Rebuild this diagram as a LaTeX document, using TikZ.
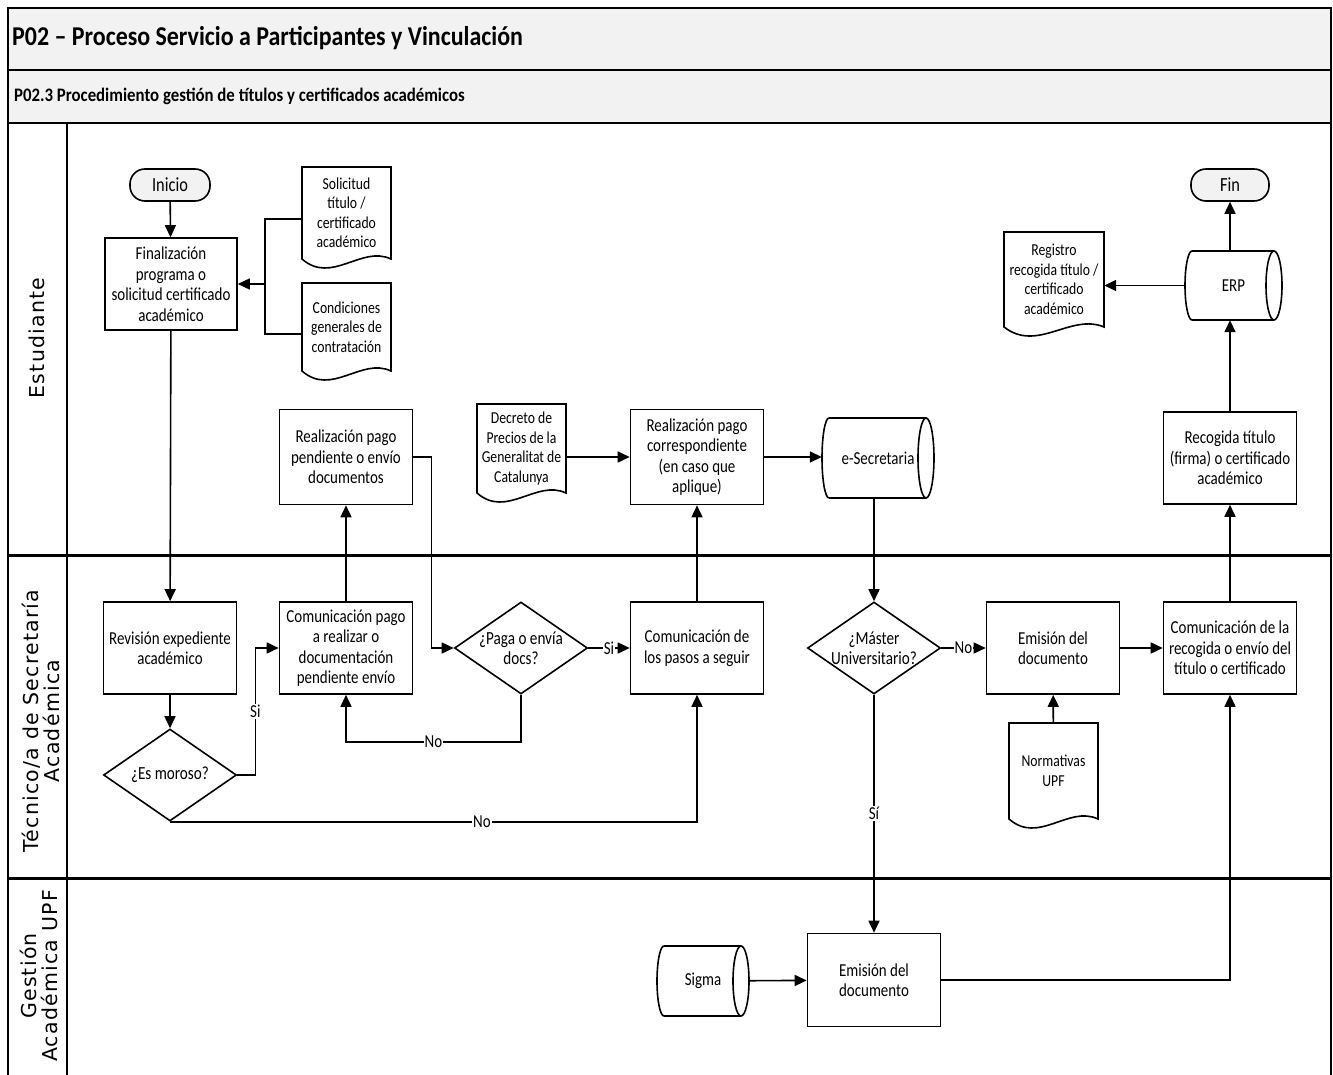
\documentclass[tikz,border=0pt]{standalone}
\usepackage{fontspec}
\setmainfont{Carlito}[FakeStretch=0.82]
\newfontfamily\titlefont{Carlito}[FakeStretch=0.88]
\newfontfamily\lanefont[LetterSpace=6]{DejaVu Sans}
\usetikzlibrary{arrows.meta,shapes.geometric,calc}
\definecolor{bandgray}{HTML}{F2F2F2}
\newcommand\fs[2]{\fontsize{#1}{#2}\selectfont}
% store (horizontal cylinder): name, x0, x1, ytop, ybot, text
\newcommand\storeshape[6]{%
  \node[storenode, minimum width={(#3-#2)*1pt}, minimum height={(#5-#4)*1pt}] (#1) at ({(#2+#3)/2},{(#4+#5)/2}) {#6};
  \draw[shp] ({#2+7},#4) -- ({#3-8},#4) ({#2+7},#5) -- ({#3-8},#5);
  \draw[shp] ({#2+7},#4) arc[start angle=90,end angle=270,x radius=7pt,y radius={(#5-#4)/2*1pt}];
  \draw[shp] ({#3-8},{(#4+#5)/2}) ellipse[x radius=8pt,y radius={(#5-#4)/2*1pt}];
}
% document: name, x0, x1, ytop, ybot (trough), text
\newcommand\docshape[6]{%
  \node[docnode, minimum width={(#3-#2)*1pt}, minimum height={(#5-9-#4)*1pt}] (#1) at ({(#2+#3)/2},{(#4+#5-9)/2}) {#6};
  \draw[shp] (#2,{#5-9}) -- (#2,#4) -- (#3,#4) -- (#3,{#5-9}) .. controls ({#3-(#3-#2)/3},{#5-23}) and ({#2+(#3-#2)/3},{#5+17}) .. (#2,{#5-9}) -- cycle;
}
\begin{document}
\begin{tikzpicture}[x=1pt,y=-1pt,
  shp/.style={line width=1.6pt, line join=miter},
  proc/.style={draw, line width=1.6pt, minimum width=133pt, minimum height=92pt, align=center, inner sep=2pt, font=\fs{18.25}{20.5}},
  dec/.style={draw, diamond, aspect=1.45, line width=1.6pt, minimum width=133pt, minimum height=92pt, inner sep=0pt, align=center, font=\fs{18.5}{19.5}},
  term/.style={draw, rounded corners=15pt, fill=bandgray, line width=1.6pt, minimum width=80pt, minimum height=32pt, font=\fs{20}{20}},
  docnode/.style={inner sep=0pt, align=center, font=\fs{16.7}{19.5}},
  storenode/.style={inner sep=0pt, align=center, font=\fs{18.25}{18}},
  arr/.style={line width=1.6pt, -{Triangle[length=12pt,width=11pt]}},
  ln/.style={line width=1.6pt},
  lbl/.style={fill=white, inner sep=1pt, font=\fs{18.25}{18}},
  lane/.style={font=\lanefont\fs{20.5}{21.5}, align=center, rotate=90},
]
\useasboundingbox (0,0) rectangle (1333,1075);
\fill[white] (0,0) rectangle (1333,1075);
% frame and bands
\filldraw[fill=bandgray, line width=2pt] (8,8) rectangle (1331,123);
\draw[line width=2pt] (8,70) -- (1331,70);
\draw[line width=2pt] (8,8) rectangle (1331,1090);
\draw[line width=1.6pt] (67,123) -- (67,1090);
\draw[line width=3pt] (8,555) -- (1331,555);
\draw[line width=3pt] (8,878) -- (1331,878);
\node[anchor=base west, inner sep=0pt, font=\titlefont\bfseries\fs{27.2}{30}] (title) at (12,46) {P02 – Proceso Servicio a Participantes y Vinculación};
\node[anchor=base west, inner sep=0pt, font=\titlefont\bfseries\fs{19.1}{22}] (subtitle) at (14,102) {P02.3 Procedimiento gestión de títulos y certificados académicos};
% lanes
\node[lane] (laneE) at (37,338) {Estudiante};
\node[lane] (laneT) at (41,721) {Técnico/a de Secretaría\\Académica};
\node[lane] (laneG) at (39,976) {Gestión\\Académica UPF};
% Estudiante lane
\node[term] (inicio) at (170,185) {Inicio};
\node[proc, minimum width=132pt] (finaliz) at (171,284) {Finalización\\programa o\\solicitud certificado\\académico};
\docshape{sol}{302}{391}{167}{268}{Solicitud\\título /\\certificado\\académico}
\docshape{cond}{302}{391}{283}{380}{Condiciones\\generales de\\contratación}
\node[proc, minimum height=95pt] (realpend) at (346,457) {Realización pago\\pendiente o envío\\documentos};
\docshape{decreto}{477}{566}{404}{502}{Decreto de\\Precios de la\\Generalitat de\\Catalunya}
\node[proc, minimum height=95pt] (realcorr) at (697,457) {Realización pago\\correspondiente\\(en caso que\\aplique)};
\storeshape{esec}{822}{934}{418}{498}{e-Secretaria}
\node[proc] (recogida) at (1230,458) {Recogida título\\(firma) o certificado\\académico};
\storeshape{erp}{1185}{1282}{251}{320}{ERP}
\node[term, minimum width=78pt] (fin) at (1230,185) {Fin};
\docshape{registro}{1004}{1104}{232}{336}{Registro\\recogida título /\\certificado\\académico}
% Tecnico lane
\node[proc] (revision) at (170,648) {Revisión expediente\\académico};
\node[dec] (moroso) at (170,775) {¿Es moroso?};
\node[proc] (compago) at (346,648) {Comunicación pago\\a realizar o\\documentación\\pendiente envío};
\node[dec] (paga) at (521,648) {¿Paga o envía\\docs?};
\node[proc] (compasos) at (697,648) {Comunicación de\\los pasos a seguir};
\node[dec] (master) at (874,648) {¿Máster\\Universitario?};
\node[proc] (emision1) at (1053,648) {Emisión del\\documento};
\docshape{normativas}{1009}{1098}{723}{828}{Normativas\\UPF}
\node[proc] (comrec) at (1230,648) {Comunicación de la\\recogida o envío del\\título o certificado};
% Gestion lane
\storeshape{sigma}{657}{749}{946}{1016}{Sigma}
\node[proc, minimum height=93pt] (emision2) at (874,980) {Emisión del\\documento};
% connectors
\draw[arr] (inicio) -- (finaliz);
\coordinate (bk) at (265,284);
\draw[ln] ([yshift=-6pt]sol.west) -| (bk);
\draw[ln] ([yshift=-7pt]cond.west) -| (bk);
\draw[arr] (bk) -- (finaliz.east);
\draw[arr] (finaliz) -- (revision);
\draw[arr] (revision) -- (moroso);
\draw[arr] (moroso.east) -- ++(18,0) |- (compago.west) node[pos=0.25, lbl] {Si};
\draw[arr] (moroso.south) -| (compasos.south) node[pos=0.296, lbl] {No};
\draw[arr] (compago) -- (realpend);
\draw[arr] (realpend.east) -- ++(18,0) |- (paga.west);
\draw[arr] (paga.east) -- (compasos.west) node[midway, lbl] {Si};
\draw[arr] (paga.south) -- ++(0,47) -| (compago.south) node[pos=0.25, lbl] {No};
\draw[arr] (compasos) -- (realcorr);
\draw[arr] (realcorr.west -| decreto.east) -- (realcorr.west);
\draw[arr] (realcorr.east) -- (realcorr.east -| esec.west);
\draw[arr] (master.north |- esec.south) -- (master.north);
\draw[arr] (master.east) -- (emision1.west) node[midway, lbl] {No};
\draw[arr] (master.south) -- (emision2.north) node[midway, lbl] {Sí};
\draw[arr] (normativas) -- (emision1);
\draw[arr] (emision1) -- (comrec);
\draw[arr] (comrec) -- (recogida);
\draw[arr] (recogida.north) -- (recogida.north |- erp.south);
\draw[arr] (recogida.north |- erp.north) -- (fin.south);
\draw[arr] (erp.west) -- (erp.west -| registro.east);
\draw[arr] (sigma) -- (emision2);
\draw[arr] (emision2.east) -| (comrec.south);
\end{tikzpicture}
\end{document}
